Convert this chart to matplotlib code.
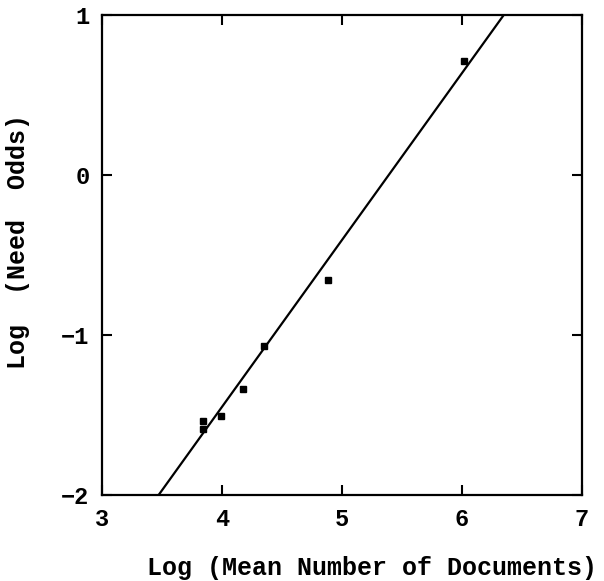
import numpy as np
import matplotlib.pyplot as plt

# observed points: log mean number of documents vs log need odds
log_docs = [3.842, 3.842, 3.989, 4.173, 4.350, 4.883, 6.014]
log_odds = [-1.533, -1.583, -1.501, -1.333, -1.064, -0.653, 0.718]

# fitted regression line
fit_slope = 1.043
fit_intercept = -5.618

x_ticks = [3, 4, 5, 6, 7]
y_ticks = [-2, -1, 0, 1]

plt.rcParams['font.family'] = ['Liberation Mono', 'DejaVu Sans Mono']
plt.rcParams['font.weight'] = 'bold'

fig = plt.figure(figsize=(6.04, 5.81), dpi=100)
ax = fig.add_axes([0.1689, 0.1472, 0.7947, 0.8262])

xf = np.array([3.0, 7.0])
ax.plot(xf, fit_slope*xf + fit_intercept, color='black', lw=1.6)
ax.plot(log_docs, log_odds, 's', color='black', markersize=3.8)

ax.set_xlim(3, 7)
ax.set_ylim(-2, 1)
ax.set_xticks(x_ticks)
ax.set_yticks(y_ticks)
ax.set_xticklabels([str(t) for t in x_ticks], fontsize=17, fontweight='bold')
ax.set_yticklabels([('\u2212' + str(-t)) if t < 0 else str(t) for t in y_ticks],
                   fontsize=17, fontweight='bold')
ax.tick_params(direction='in', length=7, width=1.5, top=True, right=True, pad=9)
for s in ax.spines.values():
    s.set_linewidth(1.6)

fig.text(0.616, 0.0103, 'Log (Mean Number of Documents)', ha='center', va='baseline',
         fontsize=18, fontweight='bold')
fig.text(0.0298, 0.585, 'Log  (Need  Odds)', ha='center', va='center', rotation=90,
         fontsize=18, fontweight='bold')

fig.savefig('out.png', dpi=100)
